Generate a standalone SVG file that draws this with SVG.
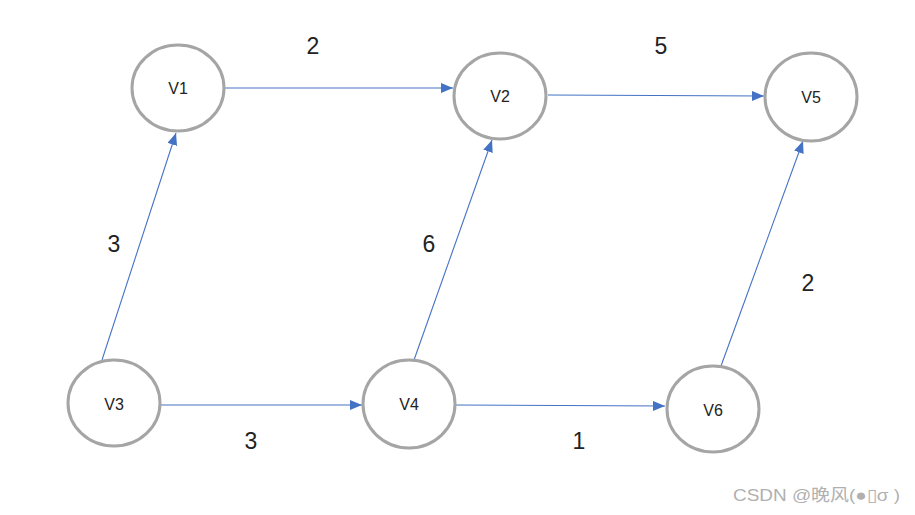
<svg xmlns="http://www.w3.org/2000/svg" width="915" height="515" viewBox="0 0 915 515">
<style>
.node ellipse{fill:#fff;stroke:#a5a5a5;stroke-width:3}
.node text{font-family:"Liberation Sans",Arial,sans-serif;font-size:16px;fill:#222;text-anchor:middle;dominant-baseline:central}
.edge{stroke:#4472c4;stroke-width:1.1;fill:none;marker-end:url(#ah)}
.w{font-family:"Liberation Sans",Arial,sans-serif;font-size:23px;fill:#222;text-anchor:middle}
.wm{font-family:"Liberation Sans","Noto Sans CJK SC",sans-serif;font-size:17px;fill:#b0b0b0}
</style>
<defs>
<marker id="ah" viewBox="0 0 12 10" refX="12" refY="5" markerWidth="12" markerHeight="10" markerUnits="userSpaceOnUse" orient="auto">
<path d="M0,0 L12,5 L0,10 Z" fill="#4472c4"/>
</marker>
</defs>
<rect width="915" height="515" fill="#fff"/>
<g id="connectors">
<line class="edge" x1="225" y1="88" x2="453" y2="88"/>
<line class="edge" x1="548" y1="95" x2="764" y2="96"/>
<line class="edge" x1="102" y1="360" x2="176" y2="133"/>
<line class="edge" x1="414" y1="360" x2="492" y2="140"/>
<line class="edge" x1="721" y1="366" x2="803" y2="141"/>
<line class="edge" x1="161" y1="405" x2="362" y2="405"/>
<line class="edge" x1="456" y1="405" x2="665" y2="406"/>
</g>
<g id="weights">
<text class="w" x="313" y="54">2</text>
<text class="w" x="661" y="54">5</text>
<text class="w" x="114" y="252">3</text>
<text class="w" x="429" y="252">6</text>
<text class="w" x="808" y="291">2</text>
<text class="w" x="251" y="449">3</text>
<text class="w" x="579" y="449">1</text>
</g>
<g id="V1" class="node"><ellipse cx="178" cy="88" rx="46" ry="43"/><text x="178" y="88">V1</text></g>
<g id="V2" class="node"><ellipse cx="500" cy="96" rx="46" ry="43"/><text x="500" y="96">V2</text></g>
<g id="V5" class="node"><ellipse cx="811" cy="97" rx="46" ry="44"/><text x="811" y="97">V5</text></g>
<g id="V3" class="node"><ellipse cx="114" cy="403" rx="46" ry="43"/><text x="114" y="404">V3</text></g>
<g id="V4" class="node"><ellipse cx="409" cy="404" rx="46" ry="44"/><text x="409" y="404">V4</text></g>
<g id="V6" class="node"><ellipse cx="713" cy="409" rx="46" ry="43"/><text x="713" y="410">V6</text></g>
<text class="wm" x="733" y="501" textLength="167" lengthAdjust="spacingAndGlyphs">CSDN @晚风(●▯σ )</text>
</svg>
